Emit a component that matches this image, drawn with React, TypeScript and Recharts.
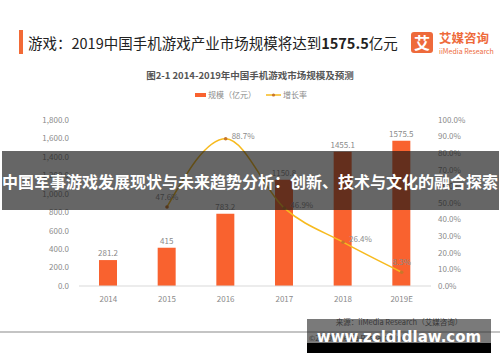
import React from 'react';
import { ComposedChart, Bar, Line, XAxis, YAxis, LabelList, Legend } from 'recharts';

const categories = ['2014', '2015', '2016', '2017', '2018', '2019E'];
const scaleValues = [281.2, 415, 783.2, 1150.8, 1455.1, 1575.5];
const growthRates: (number | null)[] = [null, 47.6, 88.7, 46.9, 26.4, 8.3];
const leftTicks = [0, 200, 400, 600, 800, 1000, 1200, 1400, 1600, 1800];
const rightTicks = [0, 10, 20, 30, 40, 50, 60, 70, 80, 90, 100];

const data = categories.map((c, i) => ({ year: c, scale: scaleValues[i], growth: growthRates[i] }));

const FONT = '"Noto Sans CJK SC", "Noto Sans", sans-serif';
const ORANGE = '#F9622F';
const YELLOW = '#F7BA1E';
const GRAY = '#8a8a8a';

// label placement per point: 'right' | 'above'
const growthPlacement = ['right', 'above', 'right', 'right', 'right', 'above'];

const renderGrowthLabel = (props: any) => {
  const { x, y, value, index } = props;
  if (value === null || value === undefined) return null;
  const place = growthPlacement[index];
  const text = `${Number(value).toFixed(1)}%`;
  if (place === 'right') {
    return (
      <text x={x + 6} y={y - 2} fontSize={8} fill={GRAY} fontFamily={FONT} textAnchor="start" dominantBaseline="middle">
        {text}
      </text>
    );
  }
  return (
    <text x={x} y={y - 9} fontSize={8} fill={GRAY} fontFamily={FONT} textAnchor="middle" dominantBaseline="middle">
      {text}
    </text>
  );
};

const renderDot = (props: any) => {
  const { cx, cy, payload, index } = props;
  if (payload.growth === null || payload.growth === undefined || cy == null) return <g key={`d${index}`} />;
  return <circle key={`d${index}`} cx={cx} cy={cy} r={1.8} fill="#C9762A" />;
};

const renderLegend = () => (
  <div style={{ display: 'flex', justifyContent: 'center', alignItems: 'center', fontFamily: FONT, fontSize: 8, color: GRAY }}>
    <div style={{ display: 'flex', alignItems: 'center', marginRight: 10, marginLeft: 2 }}>
      <span style={{ display: 'inline-block', width: 11, height: 4, background: ORANGE, marginRight: 2 }} />
      <span>规模（亿元）</span>
    </div>
    <div style={{ display: 'flex', alignItems: 'center' }}>
      <svg width={15} height={6} style={{ marginRight: 2 }}>
        <line x1={0} y1={3} x2={15} y2={3} stroke={YELLOW} strokeWidth={1.5} />
        <circle cx={7.5} cy={3} r={1.6} fill="#C9762A" />
      </svg>
      <span>增长率</span>
    </div>
  </div>
);

export default function App() {
  return (
    <div style={{ position: 'absolute', left: 0, top: 0, width: 500, height: 362, background: '#fff', overflow: 'hidden' }}>
      <ComposedChart width={500} height={362} data={data} margin={{ top: 109, right: 0, bottom: 46, left: 0 }}>
        <XAxis
          dataKey="year"
          height={30}
          axisLine={{ stroke: '#d9d9d9' }}
          tickLine={false}
          tick={{ fontSize: 8, fill: GRAY, fontFamily: FONT }}
          tickMargin={4}
        />
        <YAxis
          yAxisId="left"
          orientation="left"
          width={79}
          domain={[0, 1800]}
          ticks={leftTicks}
          axisLine={false}
          tickLine={false}
          tickMargin={4}
          tick={{ fontSize: 8, fill: GRAY, fontFamily: FONT }}
          tickFormatter={(v: number) => v.toLocaleString('en-US', { minimumFractionDigits: 1, maximumFractionDigits: 1 })}
          interval={0}
        />
        <YAxis
          yAxisId="right"
          orientation="right"
          width={69}
          domain={[0, 100]}
          ticks={rightTicks}
          axisLine={false}
          tickLine={false}
          tickMargin={1}
          tick={{ fontSize: 8, fill: GRAY, fontFamily: FONT }}
          tickFormatter={(v: number) => `${v.toFixed(1)}%`}
          interval={0}
        />
        <Legend content={renderLegend} verticalAlign="top" wrapperStyle={{ position: 'absolute', top: 89, left: 0, width: 500 }} />
        <Bar yAxisId="left" dataKey="scale" name="规模（亿元）" fill={ORANGE} barSize={18} isAnimationActive={false}>
          <LabelList dataKey="scale" position="top" offset={4} fontSize={8} fill={GRAY} fontFamily={FONT} />
        </Bar>
        <Line
          yAxisId="right"
          type="monotone"
          dataKey="growth"
          name="增长率"
          stroke={YELLOW}
          strokeWidth={1.5}
          dot={renderDot}
          activeDot={false}
          isAnimationActive={false}
        >
          <LabelList dataKey="growth" content={renderGrowthLabel} />
        </Line>
      </ComposedChart>

      {/* header */}
      <div style={{ position: 'absolute', left: 19, top: 30, width: 4, height: 24, background: '#F26A36' }} />
      <div style={{ position: 'absolute', left: 28, top: 33, fontFamily: FONT, fontSize: 14.5, lineHeight: '20px', color: '#222', whiteSpace: 'nowrap' }}>
        游戏：2019中国手机游戏产业市场规模将达到<b>1575.5</b>亿元
      </div>
      <div style={{ position: 'absolute', left: 411, top: 32, width: 22, height: 21, background: '#EE6A3B', borderRadius: 3, color: '#fff', fontFamily: FONT, fontWeight: 700, fontSize: 16, lineHeight: '21px', textAlign: 'center' }}>
        艾
      </div>
      <div style={{ position: 'absolute', left: 439, top: 30, fontFamily: FONT, fontSize: 12.5, lineHeight: '16px', color: '#EE6A3B', fontWeight: 700, whiteSpace: 'nowrap' }}>
        艾媒咨询
      </div>
      <div style={{ position: 'absolute', left: 439, top: 47, fontFamily: FONT, fontSize: 7, lineHeight: '9px', color: '#EE6A3B', whiteSpace: 'nowrap' }}>
        iiMedia Research
      </div>
      <div style={{ position: 'absolute', left: 0, top: 68, width: 500, textAlign: 'center', fontFamily: FONT, fontSize: 9.5, lineHeight: '14px', fontWeight: 700, color: '#555', whiteSpace: 'nowrap' }}>
        图2-1 2014-2019年中国手机游戏市场规模及预测
      </div>

      {/* footer */}
      <div style={{ position: 'absolute', left: 0, top: 331, width: 500, height: 1.5, background: '#c4c4c4' }} />
      <div style={{ position: 'absolute', left: 307, top: 317, width: 184, textAlign: 'center', fontFamily: FONT, fontSize: 7.5, lineHeight: '10px', color: '#555', whiteSpace: 'nowrap' }}>
        来源：iiMedia Research（艾媒咨询）
      </div>
      <div style={{ position: 'absolute', left: 309, top: 333, width: 182, textAlign: 'left', fontFamily: FONT, fontSize: 7.5, lineHeight: '10px', color: '#555', whiteSpace: 'nowrap' }}>
        ©2019 iiMedia Research Inc
      </div>
      <div style={{ position: 'absolute', left: 307, top: 319, width: 184, height: 24, background: 'rgba(40,40,40,0.62)' }} />
      <div style={{ position: 'absolute', left: 307, top: 343, width: 184, height: 10, background: '#000' }} />
      <div style={{ position: 'absolute', left: 307, top: 327, width: 184, textAlign: 'center', fontFamily: '"DejaVu Sans", sans-serif', fontWeight: 700, fontSize: 15, lineHeight: '20px', color: '#fff', whiteSpace: 'nowrap' }}>
        www.zcldldlaw.com
      </div>

      {/* banner */}
      <div style={{ position: 'absolute', left: 2, top: 151, width: 497, height: 59, background: 'rgba(20,20,20,0.65)' }} />
      <div style={{ position: 'absolute', left: 0, top: 169, width: 500, textAlign: 'center', fontFamily: FONT, fontWeight: 700, fontSize: 16, lineHeight: '24px', color: '#fff', whiteSpace: 'nowrap' }}>
        中国军事游戏发展现状与未来趋势分析：创新、技术与文化的融合探索
      </div>
    </div>
  );
}
